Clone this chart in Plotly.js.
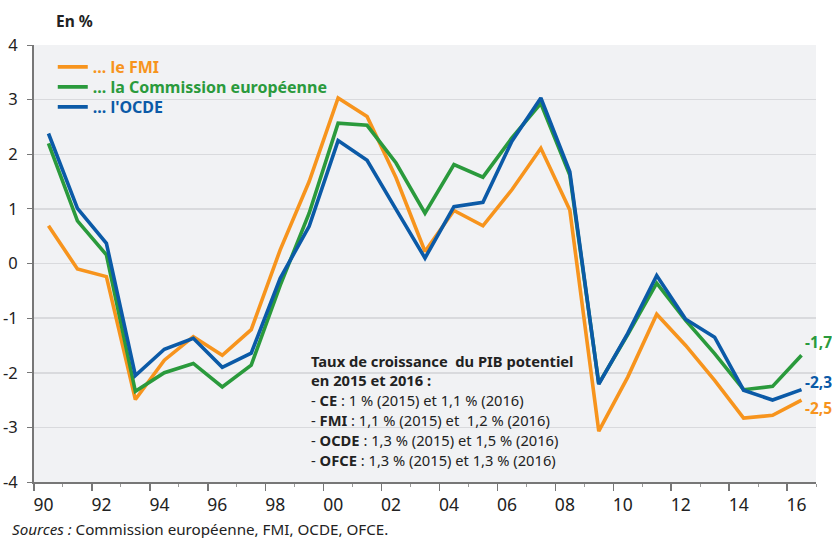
<!DOCTYPE html>
<html>
<head>
<meta charset="utf-8">
<script src="https://cdn.plot.ly/plotly-3.0.1.min.js"></script>
<style>
html,body{margin:0;padding:0;background:#fff;}
#chart{width:832px;height:538px;}
</style>
</head>
<body>
<div id="chart"></div>
<script>
// Years (annual data)
const years = [1990,1991,1992,1993,1994,1995,1996,1997,1998,1999,2000,2001,2002,2003,2004,2005,2006,2007,2008,2009,2010,2011,2012,2013,2014,2015,2016];
// Output gap estimates, in %
const fmi  = [0.69,-0.10,-0.24,-2.49,-1.77,-1.34,-1.68,-1.21,0.25,1.50,3.03,2.69,1.57,0.22,0.97,0.69,1.35,2.11,0.98,-3.07,-2.08,-0.93,-1.50,-2.14,-2.83,-2.78,-2.50];
const ce   = [2.20,0.78,0.16,-2.34,-2.00,-1.83,-2.26,-1.86,-0.40,0.92,2.57,2.53,1.84,0.92,1.81,1.58,2.30,2.93,1.62,-2.20,-1.30,-0.36,-1.04,-1.65,-2.31,-2.25,-1.68];
const ocde = [2.38,1.01,0.37,-2.05,-1.57,-1.37,-1.90,-1.64,-0.27,0.68,2.25,1.89,0.99,0.10,1.04,1.12,2.24,3.03,1.68,-2.21,-1.28,-0.22,-1.02,-1.35,-2.32,-2.50,-2.31];
// Tick labels
const tickYears = [1990,1992,1994,1996,1998,2000,2002,2004,2006,2008,2010,2012,2014,2016];
const tickText = ['90','92','94','96','98','00','02','04','06','08','10','12','14','16'];
const yTickVals = [-4,-3,-2,-1,0,1,2,3,4];
const yTickText = ['-4','-3','-2','-1','0','1','2','3','4'];
// Series names & colours
const names = ['... le FMI','... la Commission européenne',"... l'OCDE"];
const colors = ['#f7941d','#2a9a3c','#0b5aa7'];
// Box text
const boxLines = [
  '<b>Taux de croissance  du PIB potentiel</b>',
  '<b>en 2015 et 2016 :</b>',
  '- <b>CE</b> : 1 % (2015) et 1,1 % (2016)',
  '- <b>FMI</b> : 1,1 % (2015) et  1,2 % (2016)',
  '- <b>OCDE</b> : 1,3 % (2015) et 1,5 % (2016)',
  '- <b>OFCE</b> : 1,3 % (2015) et 1,3 % (2016)'
];

const FONT = 'Noto Sans, Open Sans, sans-serif';
const xs = years.map(y => y + 0.5);
const series = [fmi, ce, ocde];
const legendIds = ['legend', 'legend2', 'legend3'];

const traces = series.map((vals, i) => ({
  x: xs, y: vals, type: 'scatter', mode: 'lines',
  name: '<b><span style="color:' + colors[i] + '">' + names[i] + '</span></b>',
  line: {color: colors[i], width: 3.6},
  legend: legendIds[i],
  xaxis: 'x', yaxis: 'y', hoverinfo: 'skip'
}));
// invisible trace to carry the label axis
traces.push({x: [years[0]], y: [null], xaxis: 'x2', yaxis: 'y', showlegend: false, mode: 'lines', hoverinfo: 'skip'});

const annotations = [];
annotations.push({xref:'paper', yref:'paper', x:0.025, y:1.056, xanchor:'left', yanchor:'middle',
  text:'<b>En %</b>', showarrow:false, font:{family:FONT, size:15.5, color:'#222'}});
annotations.push({xref:'paper', yref:'paper', x:-0.031, y:-0.108, xanchor:'left', yanchor:'middle',
  text:'<i>Sources :</i> Commission européenne, FMI, OCDE, OFCE.', showarrow:false, font:{family:FONT, size:15.2, color:'#222'}});
const boxY = [-1.79,-2.14,-2.50,-2.87,-3.24,-3.59];
boxLines.forEach((t, i) => annotations.push({xref:'paper', yref:'y', x:0.352, y:boxY[i], xanchor:'left', yanchor:'middle',
  text:t, showarrow:false, font:{family:FONT, size:14.7, color:'#222'}}));
const shifts = [-8, 13, 8];
series.forEach((vals, i) => {
  const last = vals[vals.length - 1];
  annotations.push({xref:'x', yref:'y', x:xs[xs.length-1] + 0.05, y:last, xanchor:'left', yanchor:'middle',
    yshift: shifts[i], text:'<b>' + last.toFixed(1).replace('.', ',') + '</b>', showarrow:false,
    font:{family:FONT, size:15.5, color:colors[i]}});
});

// legend rows centred at pixel y 67, 87, 107 (plot top 45, height 437)
const legRowsPx = [67, 87, 107];
function legendAt(py) {
  return {x:0.024, y:1 - (py - 45) / 437, xanchor:'left', yanchor:'middle', bgcolor:'rgba(0,0,0,0)',
    font:{family:FONT, size:16}, itemwidth:30, borderwidth:0};
}

const layout = {
  width: 832, height: 538,
  margin: {l:34, r:16, t:45, b:56},
  paper_bgcolor: '#ffffff', plot_bgcolor: '#f1f2f4',
  font: {family: FONT, size: 16, color: '#222'},
  showlegend: true,
  legend: legendAt(legRowsPx[0]),
  legend2: legendAt(legRowsPx[1]),
  legend3: legendAt(legRowsPx[2]),
  xaxis: {range:[1990, 2017], tickmode:'array', tickvals:tickYears, showticklabels:false,
    ticks:'outside', ticklen:7, tickcolor:'#777', tickwidth:1.5,
    minor:{tickmode:'linear', tick0:1990, dtick:1, ticks:'outside', ticklen:3, tickcolor:'#999', tickwidth:1},
    showline:true, linecolor:'#777', linewidth:2, showgrid:false, zeroline:false, fixedrange:true},
  xaxis2: {range:[1990, 2017], overlaying:'x', anchor:'y', side:'bottom', tickmode:'array',
    tickvals: tickYears.map(y => y + 0.33), ticktext: tickText, ticks:'', showline:false,
    showgrid:false, zeroline:false, ticklabelstandoff:10, tickfont:{family:FONT, size:17.5, color:'#222'}},
  yaxis: {range:[-4, 4], tickmode:'array', tickvals:yTickVals, ticktext:yTickText, ticks:'outside', ticklen:5, tickcolor:'#777',
    showline:true, linecolor:'#777', linewidth:2, gridcolor:'#d9dadd', gridwidth:1.5,
    zeroline:false, tickfont:{family:FONT, size:16.5, color:'#222'}, ticklabelstandoff:6},
  annotations: annotations
};

Plotly.newPlot('chart', traces, layout, {displayModeBar:false, staticPlot:true});
</script>
</body>
</html>
